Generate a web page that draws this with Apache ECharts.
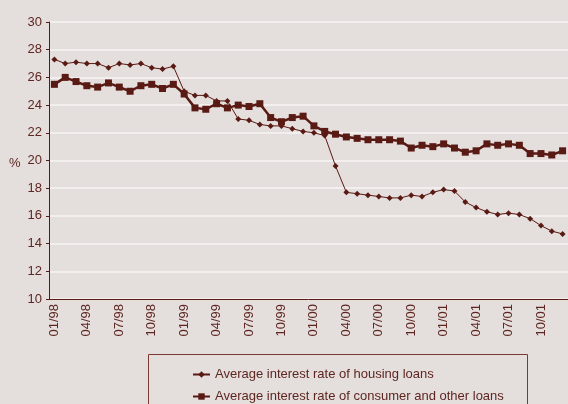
<!DOCTYPE html>
<html>
<head>
<meta charset="utf-8">
<title>Average interest rates</title>
<script src="https://cdn.jsdelivr.net/npm/echarts@6/dist/echarts.min.js"></script>
<style>
  html, body { margin: 0; padding: 0; background: #e4dedd; }
  #chart { width: 568px; height: 404px; }
</style>
</head>
<body>
<div id="chart"></div>
<script>
  // months 01/98 .. 12/01
  var categories = []
  var years = ['98', '99', '00', '01']
  for (var y = 0; y < years.length; y++) {
    for (var m = 1; m <= 12; m++) {
      categories.push((m < 10 ? '0' + m : '' + m) + '/' + years[y])
    }
  }
  var yTicks = [10, 12, 14, 16, 18, 20, 22, 24, 26, 28, 30]

  var housingName = 'Average interest rate of housing loans'
  var consumerName = 'Average interest rate of consumer and other loans'

  var housing = [
    27.3, 27.0, 27.1, 27.0, 27.0, 26.7, 27.0, 26.9, 27.0, 26.7, 26.6, 26.8,
    25.0, 24.7, 24.7, 24.3, 24.3, 23.0, 22.9, 22.6, 22.5, 22.5, 22.3, 22.1,
    22.0, 21.8, 19.6, 17.7, 17.6, 17.5, 17.4, 17.3, 17.3, 17.5, 17.4, 17.7,
    17.9, 17.8, 17.0, 16.6, 16.3, 16.1, 16.2, 16.1, 15.8, 15.3, 14.9, 14.7
  ]
  var consumer = [
    25.5, 26.0, 25.7, 25.4, 25.3, 25.6, 25.3, 25.0, 25.4, 25.5, 25.2, 25.5,
    24.8, 23.8, 23.7, 24.1, 23.8, 24.0, 23.9, 24.1, 23.1, 22.8, 23.1, 23.2,
    22.5, 22.1, 21.9, 21.7, 21.6, 21.5, 21.5, 21.5, 21.4, 20.9, 21.1, 21.0,
    21.2, 20.9, 20.6, 20.7, 21.2, 21.1, 21.2, 21.1, 20.5, 20.5, 20.4, 20.7
  ]

  var brown = '#5a1a14'
  var textColor = '#5e2620'
  var fontFamily = '"Liberation Sans", Arial, sans-serif'

  var legendBase = {
    left: 187,
    itemWidth: 17,
    itemHeight: 8,
    itemGap: 0,
    textStyle: { fontSize: 13, color: textColor, fontFamily: fontFamily }
  }

  var chart = echarts.init(document.getElementById('chart'))
  var option = {
    backgroundColor: '#e4dedd',
    animation: false,
    textStyle: { fontFamily: fontFamily, color: textColor },
    grid: { left: 49, top: 22, width: 523, height: 277 }, // plot runs off the right edge
    // one legend per row, the box is drawn as a graphic
    legend: [
      Object.assign({ top: 363, data: [housingName] }, legendBase),
      Object.assign({ top: 385, data: [consumerName] }, legendBase)
    ],
    xAxis: {
      type: 'category',
      boundaryGap: true,
      data: categories,
      axisLine: { lineStyle: { color: brown, width: 1 } },
      axisTick: { interval: 2, length: 3, lineStyle: { color: brown } },
      axisLabel: {
        interval: 2,
        rotate: 90,
        margin: 5,
        fontSize: 13,
        color: textColor,
        fontFamily: fontFamily
      },
      splitLine: { show: false }
    },
    yAxis: {
      type: 'value',
      min: yTicks[0],
      max: yTicks[yTicks.length - 1],
      interval: 2,
      axisLine: { show: true, lineStyle: { color: brown, width: 1 } },
      axisTick: { show: true, length: 3, lineStyle: { color: brown } },
      axisLabel: { margin: 7, fontSize: 13, color: textColor, fontFamily: fontFamily },
      splitLine: { show: true, lineStyle: { color: '#f7f4f3', width: 1.5 } }
    },
    graphic: [
      { // "%" unit label next to the 20 tick
        type: 'text',
        left: 9,
        top: 157,
        style: { text: '%', fontSize: 13, fill: textColor, fontFamily: fontFamily }
      },
      { // legend frame
        type: 'rect',
        shape: { x: 148.5, y: 354.5, width: 379, height: 60 },
        style: { fill: 'none', stroke: '#7a3a32', lineWidth: 1 },
        silent: true
      }
    ],
    series: [
      {
        name: housingName,
        type: 'line',
        data: housing,
        symbol: 'diamond',
        symbolSize: 6,
        lineStyle: { color: brown, width: 1 },
        itemStyle: { color: brown }
      },
      {
        name: consumerName,
        type: 'line',
        data: consumer,
        symbol: 'rect',
        symbolSize: 7,
        lineStyle: { color: brown, width: 2.5 },
        itemStyle: { color: brown }
      }
    ]
  }
  chart.setOption(option)
</script>
</body>
</html>
